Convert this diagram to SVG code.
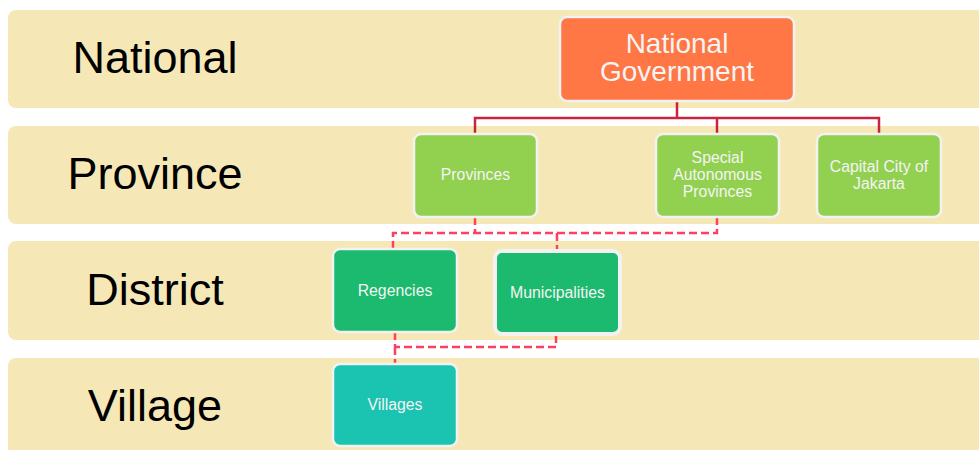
<svg xmlns="http://www.w3.org/2000/svg" width="979" height="450" viewBox="0 0 979 450">
<style>
.band{fill:#F5E8B6}
.lvl{font-family:"Liberation Sans",Arial,sans-serif;font-size:45px;fill:#000;text-anchor:middle}
.box{stroke:#F2F2F2;stroke-width:2.5}
.t{font-family:"Liberation Sans",Arial,sans-serif;font-size:15.8px;fill:#F4F4F4;text-anchor:middle}
.solid{fill:none;stroke:#C8243F;stroke-width:2.5}
.dash{fill:none;stroke:#FF3F5F;stroke-width:2.5;stroke-dasharray:8 4}
</style>
<rect width="979" height="450" fill="#FFFFFF"/>
<g id="bands">
<rect class="band" x="8" y="10" width="990" height="98" rx="8"/>
<rect class="band" x="8" y="126" width="990" height="98" rx="8"/>
<rect class="band" x="8" y="241" width="990" height="99" rx="8"/>
<rect class="band" x="8" y="358" width="990" height="110" rx="8"/>
<text class="lvl" x="155" y="73">National</text>
<text class="lvl" x="155" y="189">Province</text>
<text class="lvl" x="155" y="305">District</text>
<text class="lvl" x="155" y="421">Village</text>
</g>
<g id="connectors">
<path class="solid" d="M677 101 V118 M475 134 V118 H879 V134 M717 118 V134"/>
<path class="dash" d="M475 217 V233 M393 249 V233 H717 V217 M557 233 V251"/>
<path class="dash" d="M395 332 V347 H556 V334 M395 347 V364"/>
</g>
<g id="national-government">
<rect class="box" x="560" y="17" width="234" height="84" rx="7" fill="#FF7744"/>
<text class="t" x="677" y="53" style="font-size:28px">National</text>
<text class="t" x="677" y="81" style="font-size:28px">Government</text>
</g>
<g id="provinces">
<rect class="box" x="414" y="134" width="123" height="83" rx="7" fill="#92D050"/>
<text class="t" x="475.5" y="180">Provinces</text>
</g>
<g id="special-autonomous-provinces">
<rect class="box" x="656" y="134" width="123" height="83" rx="7" fill="#92D050"/>
<text class="t" x="717.5" y="163">Special</text>
<text class="t" x="717.5" y="180">Autonomous</text>
<text class="t" x="717.5" y="197">Provinces</text>
</g>
<g id="capital-city">
<rect class="box" x="817" y="134" width="124" height="83" rx="7" fill="#92D050"/>
<text class="t" x="879" y="172">Capital City of</text>
<text class="t" x="879" y="189">Jakarta</text>
</g>
<g id="regencies">
<rect class="box" x="333" y="249" width="124" height="83" rx="7" fill="#1BBA6E"/>
<text class="t" x="395" y="296">Regencies</text>
</g>
<g id="municipalities">
<rect x="495" y="251" width="125" height="83" rx="7" fill="#1BBA6E" stroke="#F2F2F2" stroke-width="4"/>
<text class="t" x="557.5" y="298">Municipalities</text>
</g>
<g id="villages">
<rect class="box" x="333" y="364" width="124" height="82" rx="7" fill="#1BC3B1"/>
<text class="t" x="395" y="410">Villages</text>
</g>
</svg>
